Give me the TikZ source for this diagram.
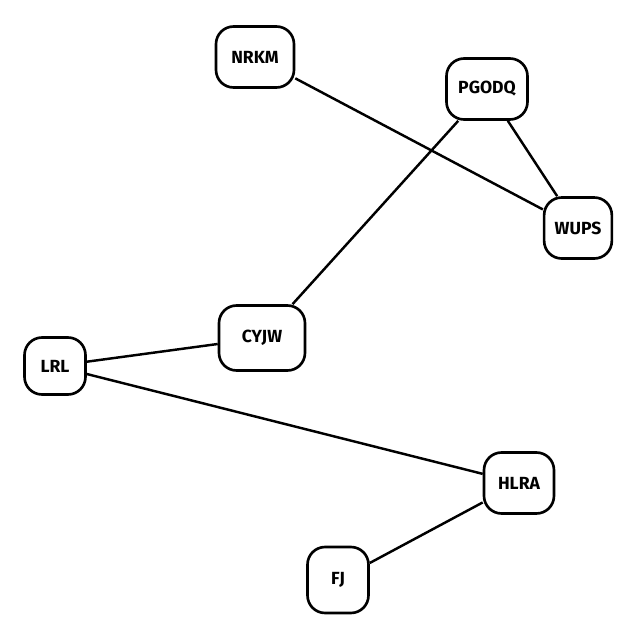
\documentclass[tikz,border=0pt]{standalone}
\usepackage{fontspec}
\setmainfont{Fira Sans}
\usepackage{tikz}
\usetikzlibrary{positioning}

\begin{document}
\begin{tikzpicture}[
  x=0.02cm, y=-0.02cm,
  card/.style={draw, line width=1.5pt, rounded corners=10pt, minimum width=1.22cm, minimum height=1.22cm, inner xsep=6pt, align=center, fill=white, font=\bfseries},
  link/.style={line width=1.4pt}
]
  \useasboundingbox (0,0) rectangle (640,640);

  \node[card, minimum width=1.56cm] (nrkm) at (255,57) {NRKM};
  \node[card, minimum width=1.62cm] (pgodq) at (487,89) {PGODQ};
  \node[card] (wups) at (578,228) {WUPS};
  \node[card, minimum width=1.72cm, minimum height=1.3cm] (cyjw) at (262,338) {CYJW};
  \node[card, minimum height=1.14cm] (lrl) at (55,366) {LRL};
  \node[card, minimum width=1.4cm] (hlra) at (519,483) {HLRA};
  \node[card, minimum height=1.32cm] (fj) at (338,580) {FJ};

  \draw[link] (nrkm) -- (wups);
  \draw[link] (pgodq) -- (wups);
  \draw[link] (pgodq) -- (cyjw);
  \draw[link] (lrl) -- (cyjw);
  \draw[link] (lrl) -- (hlra);
  \draw[link] (hlra) -- (fj);
\end{tikzpicture}
\end{document}
